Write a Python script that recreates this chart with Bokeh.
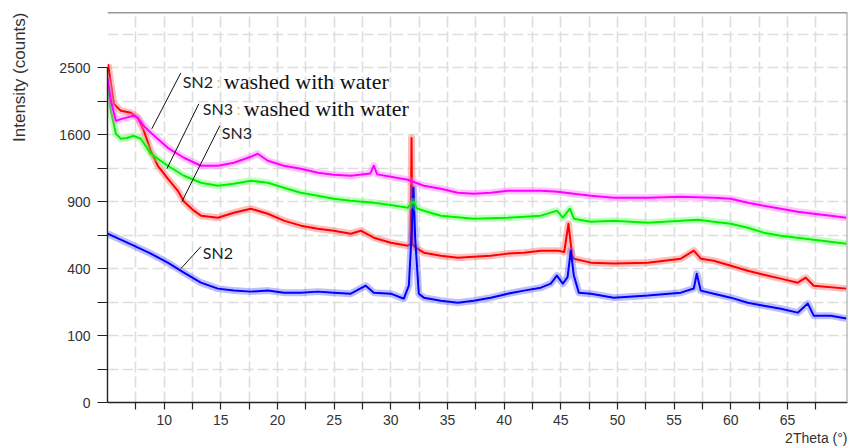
import math
import numpy as np
from bokeh.plotting import figure
from bokeh.models import Range1d, FixedTicker, CustomJSTickFormatter, Label, Span, ColumnDataSource, Title
from bokeh.embed import file_html
from bokeh.resources import INLINE

# ---------------- data (2Theta in degrees, intensity in counts) ----------------
theta_sn2w = [5.0, 5.3, 5.74, 6.18, 6.6, 7.32, 7.68, 8.2, 8.82, 10.32, 11.74, 13.24, 14.74, 16.15, 17.65,
              18.26, 19.15, 20.56, 22.06, 23.56, 24.97, 26.47, 28.2, 28.5, 28.8, 30.0, 31.5, 32.91, 34.41,
              35.91, 37.32, 38.82, 40.32, 41.74, 43.24, 44.74, 46.15, 47.65, 49.68, 52.68, 55.59, 58.5,
              60.0, 61.5, 62.91, 64.41, 65.91, 67.32, 68.82, 70.2]
counts_sn2w = [2350, 2028, 1768, 1790, 1806, 1832, 1806, 1706, 1621, 1446, 1335, 1249, 1249, 1281, 1346,
               1379, 1302, 1249, 1218, 1176, 1156, 1146, 1170, 1250, 1160, 1136, 1106, 1047, 1018,
               981, 971, 981, 999, 999, 999, 990, 971, 953, 935, 935, 944, 935,
               925, 889, 863, 837, 811, 794, 778, 761]

theta_sn3w = [5.0, 5.3, 5.74, 6.18, 6.7, 7.32, 7.94, 8.82, 10.32, 11.74, 13.24, 14.74, 16.15, 17.65, 19.15,
              20.56, 22.06, 23.56, 24.97, 26.47, 28.5, 30.0, 31.5, 32.0, 32.3, 32.91, 34.41, 37.32, 40.32,
              43.24, 44.65, 45.18, 45.8, 46.15, 47.65, 49.68, 52.68, 55.59, 57.09, 58.5, 60.0, 61.5, 62.91,
              64.41, 67.32, 70.2]
counts_sn3w = [2277, 1896, 1609, 1550, 1560, 1585, 1550, 1379, 1249, 1146, 1076, 1047, 1066, 1096, 1076,
               1028, 981, 953, 925, 907, 889, 870, 846, 900, 840, 820, 778, 753, 761,
               778, 820, 761, 837, 753, 728, 737, 720, 737, 745, 728, 712, 681, 643,
               620, 591, 562]

theta_sn3 = [5.05, 5.56, 6.18, 7.06, 7.68, 8.21, 8.82, 9.44, 10.32, 11.21, 11.74, 12.62, 13.24, 14.74, 16.15,
             17.65, 19.15, 20.56, 22.06, 23.56, 24.97, 26.47, 27.35, 28.5, 30.0, 31.5, 31.75, 31.83, 31.9,
             32.2, 32.91, 34.41, 35.91, 37.32, 38.82, 40.32, 41.74, 43.24, 44.74, 45.3, 45.68, 46.0, 46.15,
             47.65, 49.68, 52.68, 55.59, 56.74, 57.35, 58.5, 60.0, 61.5, 62.91, 64.41, 65.91, 66.62, 67.32, 70.2]
counts_sn3 = [2550, 1988, 1896, 1870, 1806, 1645, 1412, 1249, 1116, 999, 900, 820, 778, 761, 803,
              837, 794, 737, 697, 673, 658, 635, 658, 605, 569, 548, 560, 1560, 560,
              534, 500, 480, 467, 474, 480, 494, 500, 514, 514, 505, 712, 480, 461,
              436, 430, 436, 461, 514, 461, 448, 417, 387, 364, 342, 320, 347, 304, 289]

theta_sn2 = [5.0, 7.32, 8.82, 10.32, 11.74, 13.24, 14.74, 16.15, 17.65, 19.15, 20.56, 22.06, 23.56, 24.97,
             26.47, 27.79, 28.5, 30.0, 31.15, 31.59, 31.85, 32.0, 32.15, 32.47, 32.91, 34.41, 35.91, 37.32,
             38.82, 40.32, 41.74, 43.24, 44.12, 44.65, 45.18, 45.6, 45.88, 46.15, 46.59, 47.65, 49.68, 52.68,
             55.59, 56.74, 57.0, 57.35, 58.5, 60.0, 61.5, 62.91, 64.41, 65.91, 66.8, 67.32, 68.82, 70.2]
counts_sn2 = [635, 548, 494, 436, 376, 320, 289, 279, 274, 279, 269, 269, 274, 269,
              264, 304, 269, 264, 240, 304, 650, 1028, 600, 264, 245, 231, 222, 231,
              245, 264, 279, 294, 315, 359, 315, 350, 514, 360, 269, 264, 245, 255,
              269, 290, 370, 279, 264, 245, 222, 209, 196, 180, 218, 168, 168, 157]

y_tick_counts = [0, 100, 400, 900, 1600, 2500]
y_minor_counts = [25, 225, 625, 1225, 2025]
y_grid_extra = [3025]
x_tick_labels = [10, 15, 20, 25, 30, 35, 40, 45, 50, 55, 60, 65]
x_minor_ticks = [7.5, 12.5, 17.5, 22.5, 27.5, 32.5, 37.5, 42.5, 47.5, 52.5, 57.5, 62.5, 67.5]

series = [
    ("SN3", theta_sn3, counts_sn3, "#ff0000", "#ff5c5c"),
    ("SN2", theta_sn2, counts_sn2, "#0000ff", "#5c5cff"),
    ("SN3 washed", theta_sn3w, counts_sn3w, "#00f000", "#5cff5c"),
    ("SN2 washed", theta_sn2w, counts_sn2w, "#ff00ff", "#ff6cff"),
]

X0, X1 = 5.0, 70.3
YTOP = 3390.0  # counts at top of frame

p = figure(width=855, height=448, output_backend="svg", toolbar_location=None,
           x_range=Range1d(X0, X1), y_range=Range1d(0, math.sqrt(YTOP)),
           min_border_left=107, min_border_right=8, min_border_top=12, min_border_bottom=46)
p.outline_line_color = None
p.background_fill_color = "white"
p.border_fill_color = "white"

# square-root intensity scale: plot sqrt(counts), label ticks with counts
sq = lambda vals: [math.sqrt(v) for v in vals]
p.yaxis.ticker = FixedTicker(ticks=sq(y_tick_counts), minor_ticks=sq(y_minor_counts))
p.ygrid.ticker = FixedTicker(ticks=sq(y_tick_counts), minor_ticks=sq(y_minor_counts + y_grid_extra))
p.yaxis.formatter = CustomJSTickFormatter(code="return String(Math.round(tick*tick));")
p.yaxis.bounds = (0, math.sqrt(2500))
p.xaxis.ticker = FixedTicker(ticks=x_tick_labels, minor_ticks=x_minor_ticks)

for ax in (p.xaxis, p.yaxis):
    ax.axis_line_color = "#222222"
    ax.axis_line_width = 1.4
    ax.major_tick_line_color = "#222222"
    ax.minor_tick_line_color = "#222222"
    ax.major_tick_line_width = 1.2
    ax.minor_tick_line_width = 1.2
    ax.major_label_text_font = "Liberation Sans"
    ax.major_label_text_font_size = "14px"
    ax.major_label_text_color = "#333333"
    ax.major_tick_in = 0
    ax.minor_tick_in = 0

p.xaxis.major_tick_out = 7
p.xaxis.minor_tick_out = 7
p.xaxis.major_label_standoff = 5
p.yaxis.major_tick_out = 10
p.yaxis.minor_tick_out = 10
p.yaxis.major_label_standoff = 7

for g in (p.xgrid, p.ygrid):
    g.grid_line_color = "#dedede"
    g.grid_line_width = 1.6
    g.grid_line_dash = "11 4"
    g.minor_grid_line_color = "#dedede"
    g.minor_grid_line_width = 1.6
    g.minor_grid_line_dash = "11 4"

# frame lines (top dark, right grey)
p.add_layout(Span(location=math.sqrt(YTOP), dimension="width", line_color="#333333", line_width=1.4))
p.add_layout(Span(location=X1, dimension="height", line_color="#999999", line_width=2))

# data traces: a soft band (noise look) plus a solid core
for name, th, cnt, core, soft in series:
    assert len(th) == len(cnt)
    src = ColumnDataSource(dict(x=th, y=np.sqrt(np.array(cnt, dtype=float))))
    p.line("x", "y", source=src, line_color=soft, line_width=7, line_alpha=0.4, line_join="round")
    p.line("x", "y", source=src, line_color=core, line_width=2, line_join="round")

# axis titles (side titles so they can sit at the ends of the axes);
# an empty spacer title pushes the y title out to the page edge
p.add_layout(Title(text=" ", text_font_size="1px", standoff=25), "left")
p.add_layout(Title(text="Intensity (counts)", align="right", text_font="Liberation Sans",
                   text_font_size="17px", text_font_style="normal", text_color="#333333",
                   standoff=0), "left")
p.add_layout(Title(text="2Theta (°)", align="right", text_font="Liberation Sans",
                   text_font_size="14px", text_font_style="normal", text_color="#333333",
                   standoff=0), "below")

# curve annotations: (sample, extra, label x, label y(sqrt), colon x, text x, leader from, leader to)
notes = [
    ("SN2", "washed with water", 11.65, 47.87, 14.65, 15.26, (11.47, 49.21), (8.91, 40.86)),
    ("SN3", "washed with water", 13.41, 43.84, 16.41, 17.03, (13.06, 44.59), (10.24, 34.89)),
    ("SN3", None, 15.09, 40.26, None, None, (14.91, 41.31), (11.56, 29.97)),
    ("SN2", None, 13.41, 22.37, None, None, (13.24, 23.26), (11.47, 19.98)),
]
x0s, y0s, x1s, y1s = [], [], [], []
for samp, extra, lx, ly, cx, tx, a, b in notes:
    p.add_layout(Label(x=lx, y=ly, text=samp, text_font="Lato", text_font_size="16px",
                       text_baseline="alphabetic", text_color="#222222"))
    if extra:
        p.add_layout(Label(x=cx, y=ly, text=":", text_font="Lato", text_font_size="15px",
                           text_baseline="alphabetic", text_color="#f3c27c"))
        p.add_layout(Label(x=tx, y=ly, text=extra, text_font="Liberation Serif", text_font_size="22px",
                           text_baseline="alphabetic", text_color="#111111"))
    x0s.append(a[0]); y0s.append(a[1]); x1s.append(b[0]); y1s.append(b[1])
p.segment(x0=x0s, y0=y0s, x1=x1s, y1=y1s, line_color="#111111", line_width=1)

open("out.html", "w").write(file_html(p, INLINE))
